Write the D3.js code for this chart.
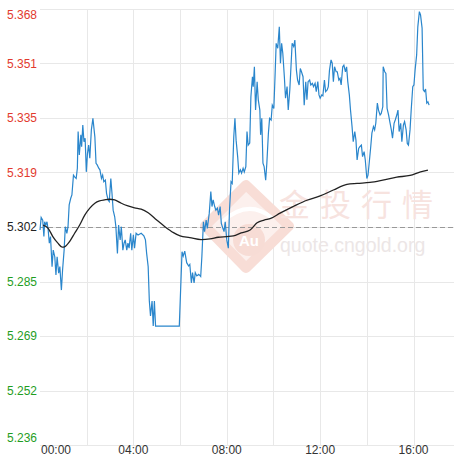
<!DOCTYPE html>
<html>
<head>
<meta charset="utf-8">
<script src="https://cdn.jsdelivr.net/npm/d3@7"></script>
<style>
  body { margin: 0; background: #fff; }
  svg { display: block; font-family: "Liberation Sans", Arial, sans-serif; }
</style>
</head>
<body>
<div id="chart"></div>
<script>
//-------------------DATA--------------------------
// price line: minutes after 00:00 and price
var priceMinutes = [0,3,7,10,12,15,18,21,24,27,31,34,38,41,44,48,51,55,58,62,65,69,72,75,79,82,86,89,93,96,
  98,101,105,107,110,113,116,119,122,125,128,132,136,141,144,147,151,154,158,161,164,168,171,175,178,182,185,188,192,195,
  199,202,206,209,213,216,219,223,226,229,233,236,240,243,247,252,260,267,271,274,278,281,284,288,291,294,297,358,365,368,
  372,377,382,385,389,392,396,399,403,408,413,416,420,423,427,430,435,439,442,445,449,452,456,459,463,466,470,473,476,480,
  484,487,491,494,498,501,504,508,511,515,518,522,525,529,532,535,539,542,546,548,551,554,558,561,565,567,570,573,576,580,
  583,587,590,594,597,601,604,607,611,615,618,621,624,628,631,635,638,642,645,648,652,655,659,662,666,669,672,676,679,683,
  686,689,693,696,700,703,707,710,714,717,720,724,727,731,734,738,741,744,748,751,754,757,761,764,768,771,774,778,781,785,
  788,791,795,798,802,805,809,812,815,819,822,826,829,833,836,840,843,846,850,853,857,860,863,867,870,874,877,881,882,886,
  889,892,896,899,903,906,910,913,917,920,923,927,930,934,937,941,944,947,951,954,958,961,964,968,971,975,978,982,985,988,
  991,994,997,1000];
var priceValues = [5.3011,5.3049,5.3041,5.2991,5.3036,5.3026,5.3036,5.3011,5.2971,5.2991,5.2900,5.2950,5.2930,5.2875,5.2930,5.2880,5.2900,5.2829,5.2890,5.2950,
  5.3021,5.3001,5.3021,5.3087,5.3107,5.3117,5.3177,5.3172,5.3167,5.3198,5.3309,5.3238,5.3299,5.3263,5.3329,5.3278,5.3289,5.3187,5.3243,5.3268,
  5.3228,5.3314,5.3349,5.3293,5.3213,5.3208,5.3198,5.3193,5.3167,5.3177,5.3157,5.3162,5.3122,5.3102,5.3097,5.3167,5.3122,5.3071,5.3051,5.3021,
  5.2940,5.3026,5.2981,5.3021,5.2950,5.2971,5.2981,5.2950,5.2971,5.2956,5.3001,5.2950,5.2996,5.2956,5.3001,5.2996,5.3001,5.2993,5.2981,5.2941,
  5.2900,5.2796,5.2751,5.2796,5.2720,5.2796,5.2720,5.2720,5.2945,5.2932,5.2947,5.2912,5.2902,5.2907,5.2851,5.2882,5.2851,5.2882,5.2872,5.2877,
  5.2870,5.2930,5.3036,5.3006,5.3041,5.3016,5.3062,5.3127,5.3082,5.3102,5.3082,5.3071,5.3077,5.3056,5.3082,5.3031,5.3016,5.3006,5.3036,5.2981,
  5.2956,5.3071,5.3157,5.3152,5.3293,5.3349,5.3283,5.3233,5.3183,5.3193,5.3183,5.3198,5.3187,5.3203,5.3309,5.3268,5.3274,5.3414,5.3475,5.3445,
  5.3505,5.3374,5.3460,5.3405,5.3374,5.3299,5.3349,5.3213,5.3203,5.3162,5.3213,5.3304,5.3349,5.3344,5.3389,5.3379,5.3475,5.3576,5.3561,5.3626,
  5.3516,5.3576,5.3546,5.3475,5.3410,5.3445,5.3374,5.3435,5.3505,5.3576,5.3566,5.3586,5.3495,5.3465,5.3450,5.3500,5.3490,5.3475,5.3389,5.3460,
  5.3405,5.3460,5.3465,5.3450,5.3455,5.3445,5.3455,5.3430,5.3460,5.3420,5.3410,5.3420,5.3417,5.3465,5.3430,5.3435,5.3445,5.3495,5.3526,5.3516,
  5.3460,5.3505,5.3490,5.3490,5.3465,5.3470,5.3450,5.3505,5.3510,5.3490,5.3505,5.3460,5.3420,5.3374,5.3324,5.3278,5.3309,5.3283,5.3223,5.3258,
  5.3263,5.3268,5.3233,5.3248,5.3223,5.3167,5.3177,5.3213,5.3263,5.3304,5.3324,5.3314,5.3334,5.3395,5.3374,5.3359,5.3364,5.3384,5.3505,5.3490,
  5.3485,5.3379,5.3359,5.3339,5.3314,5.3289,5.3334,5.3344,5.3359,5.3374,5.3309,5.3334,5.3278,5.3329,5.3339,5.3314,5.3273,5.3268,5.3314,5.3374,
  5.3445,5.3450,5.3495,5.3541,5.3626,5.3672,5.3662,5.3622,5.3435,5.3430,5.3438,5.3395,5.3399,5.3389];

// average line
var avgMinutes = [8,21,33,46,57,63,76,89,102,115,128,141,153,166,179,192,209,226,243,260,278,300,321,343,360,385,414,437,458,480,
  497,517,540,558,576,593,617,651,686,720,754,789,815,848,881,917,951,978,997];
var avgValues = [5.3026,5.3016,5.2991,5.2971,5.2959,5.2960,5.2976,5.3001,5.3026,5.3056,5.3077,5.3092,5.3099,5.3102,5.3104,5.3102,5.3092,5.3084,5.3078,5.3074,
  5.3063,5.3041,5.3021,5.3003,5.2993,5.2988,5.2982,5.2984,5.2989,5.2991,5.2993,5.3002,5.3011,5.3033,5.3041,5.3046,5.3062,5.3082,5.3101,5.3114,
  5.3132,5.3149,5.3152,5.3155,5.3162,5.3171,5.3176,5.3187,5.3192];

var preClose = 5.302;
var yTickLabels = ["5.236","5.252","5.269","5.285","5.302","5.319","5.335","5.351","5.368"];
var xTickLabels = ["00:00","04:00","08:00","12:00","16:00"];
var xTickMinutes = [0, 240, 480, 720, 960];
var xGridMinutes = [120, 240, 360, 480, 600, 720, 840, 960];

//-------------------SET-UP--------------------------
var width = 454;
var height = 456;

var xScale = d3.scaleLinear().domain([0, 1064]).range([40, 454]);
var yScale = d3.scaleLinear().domain([5.236, 5.368]).range([445, 9]);

var yTickValues = yTickLabels.map(function(d, i) {
    return 5.236 + i * (5.368 - 5.236) / (yTickLabels.length - 1);
});

var svg = d3.select("#chart")
    .append("svg")
    .attr("width", width)
    .attr("height", height);

//-------------------GRID--------------------------
svg.append("g").selectAll("line")
    .data(yTickValues)
    .enter()
    .append("line")
    .attr("x1", 40).attr("x2", width)
    .attr("y1", function(d) { return Math.round(yScale(d)) + 0.5; })
    .attr("y2", function(d) { return Math.round(yScale(d)) + 0.5; })
    .attr("stroke", "#e8e8e8");

svg.append("g").selectAll("line")
    .data(xGridMinutes)
    .enter()
    .append("line")
    .attr("x1", function(d) { return Math.round(xScale(d)) + 0.5; })
    .attr("x2", function(d) { return Math.round(xScale(d)) + 0.5; })
    .attr("y1", 9).attr("y2", 445)
    .attr("stroke", "#e8e8e8");

//-------------------WATERMARK--------------------------
var wm = svg.append("g");
wm.append("path")
    .attr("d", "M246,185 L289,226 L246,268 L205,226 Z")
    .attr("fill", "#fcf0ed")
    .attr("stroke", "#f8ddd6")
    .attr("stroke-width", 10)
    .attr("stroke-linejoin", "round");
wm.append("path")
    .attr("d", "M222,222 Q248,198 272,218")
    .attr("fill", "none")
    .attr("stroke", "#ffffff")
    .attr("stroke-width", 4);
wm.append("circle")
    .attr("cx", 249).attr("cy", 240).attr("r", 16)
    .attr("fill", "#f7dcd5");
wm.append("text")
    .attr("x", 249).attr("y", 246)
    .attr("text-anchor", "middle")
    .style("font-size", "15px")
    .style("font-weight", "bold")
    .attr("fill", "#ffffff")
    .text("Au");
wm.append("text")
    .attr("x", 279).attr("y", 216)
    .style("font-family", "'Noto Sans CJK SC', sans-serif")
    .style("font-size", "31px")
    .style("letter-spacing", "10px")
    .attr("fill", "#f7e3df")
    .text("金投行情");
wm.append("text")
    .attr("x", 280).attr("y", 252)
    .style("font-size", "19.5px")
    .attr("fill", "#ece6e6")
    .text("quote.cngold.org");

//-------------------PRE-CLOSE LINE--------------------------
svg.append("line")
    .attr("x1", 40).attr("x2", width)
    .attr("y1", Math.round(yScale(preClose)) + 0.5)
    .attr("y2", Math.round(yScale(preClose)) + 0.5)
    .attr("stroke", "#999")
    .attr("stroke-dasharray", "5,3");

//-------------------LINES--------------------------
var priceData = priceMinutes.map(function(m, i) { return {m: m, v: priceValues[i]}; });
var avgData = avgMinutes.map(function(m, i) { return {m: m, v: avgValues[i]}; });

var line = d3.line()
    .x(function(d) { return xScale(d.m); })
    .y(function(d) { return yScale(d.v); });

svg.append("path")
    .datum(priceData)
    .attr("d", line)
    .attr("fill", "none")
    .attr("stroke", "#2a86cc")
    .attr("stroke-width", 1.2);

svg.append("path")
    .datum(avgData)
    .attr("d", line.curve(d3.curveMonotoneX))
    .attr("fill", "none")
    .attr("stroke", "#222")
    .attr("stroke-width", 1.3);

//-------------------AXES LABELS--------------------------
svg.append("g").selectAll("text")
    .data(yTickValues)
    .enter()
    .append("text")
    .attr("x", 7)
    .attr("y", function(d, i) {
        var y = yScale(d);
        if (i == yTickLabels.length - 1) y = 15;
        if (i == 0) y = 438;
        return y;
    })
    .attr("dy", "0.35em")
    .style("font-size", "12px")
    .attr("fill", function(d, i) {
        if (i < 4) return "#1f9e1f";
        if (i > 4) return "#e23a2e";
        return "#222";
    })
    .text(function(d, i) { return yTickLabels[i]; });

svg.append("g").selectAll("text")
    .data(xTickMinutes)
    .enter()
    .append("text")
    .attr("x", function(d, i) { return i == 0 ? 41 : xScale(d); })
    .attr("y", 454)
    .attr("text-anchor", function(d, i) { return i == 0 ? "start" : "middle"; })
    .style("font-size", "12px")
    .attr("fill", "#333")
    .text(function(d, i) { return xTickLabels[i]; });
</script>
</body>
</html>
